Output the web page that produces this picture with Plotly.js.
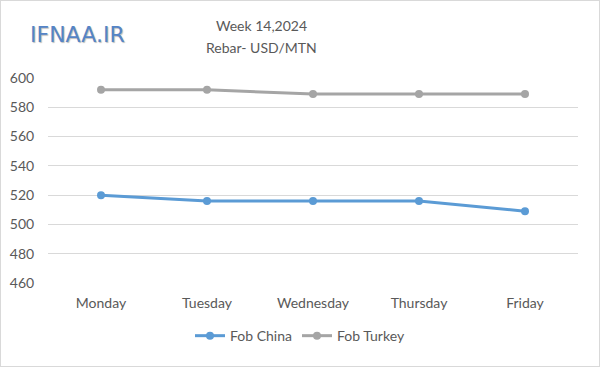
<!DOCTYPE html>
<html><head><meta charset="utf-8">
<script src="https://cdn.plot.ly/plotly-3.0.1.min.js"></script>
<style>body{margin:0;background:#fff}#c{width:598px;height:365px;border:1px solid #d9d9d9}</style>
</head><body><div id="c"></div>
<script>
const days = ["Monday","Tuesday","Wednesday","Thursday","Friday"];
const fobChina = [520, 516, 516, 516, 509];
const fobTurkey = [592, 592, 589, 589, 589];
const yTicks = [460, 480, 500, 520, 540, 560, 580, 600];
const fnt = "Lato, 'Open Sans', sans-serif";
const logoFont = "'DejaVu Sans', sans-serif";
const traces = [
  {x: days, y: fobChina, name: "Fob China", type: "scatter", mode: "lines+markers",
   line: {color: "#5b9bd5", width: 3}, marker: {color: "#5b9bd5", size: 8}},
  {x: days, y: fobTurkey, name: "Fob Turkey", type: "scatter", mode: "lines+markers",
   line: {color: "#a5a5a5", width: 3}, marker: {color: "#a5a5a5", size: 8}}
];
const layout = {
  width: 598, height: 365,
  margin: {l: 47, r: 21, t: 77, b: 83},
  paper_bgcolor: "#fff", plot_bgcolor: "#fff",
  font: {family: fnt, color: "#595959", size: 14},
  xaxis: {type: "category", range: [-0.5, 4.5], automargin: false, showgrid: false, zeroline: false, showline: false,
          tickfont: {size: 14, color: "#595959"}, ticks: "outside", ticklen: 7, tickcolor: "rgba(0,0,0,0)"},
  yaxis: {range: [460, 600], tickvals: yTicks, automargin: false, showgrid: true, gridcolor: "#d9d9d9", gridwidth: 1,
          zeroline: false, showline: false, tickfont: {size: 14, color: "#595959"},
          ticks: "outside", ticklen: 10, tickcolor: "rgba(0,0,0,0)"},
  showlegend: true,
  legend: {orientation: "h", x: 0.5, xref: "container", xanchor: "center", y: 0.082, yref: "container", yanchor: "middle",
           font: {size: 14, color: "#595959"}},
  annotations: [
    {text: "Week 14,2024", xref: "paper", yref: "paper", x: 0.403, y: 1.255, xanchor: "center", yanchor: "middle",
     showarrow: false, font: {family: fnt, size: 14, color: "#595959"}},
    {text: "Rebar- USD/MTN", xref: "paper", yref: "paper", x: 0.403, y: 1.15, xanchor: "center", yanchor: "middle",
     showarrow: false, font: {family: fnt, size: 14, color: "#595959"}},
    {text: "IFNAA.IR", xref: "paper", yref: "paper", x: -0.038, y: 1.212, xanchor: "left", yanchor: "middle",
     showarrow: false, font: {family: logoFont, size: 22, color: "#5584c6",
     shadow: "1px 1px 1px #bdbdbd"}}
  ]
};
Plotly.newPlot("c", traces, layout, {displayModeBar: false});
</script></body></html>
